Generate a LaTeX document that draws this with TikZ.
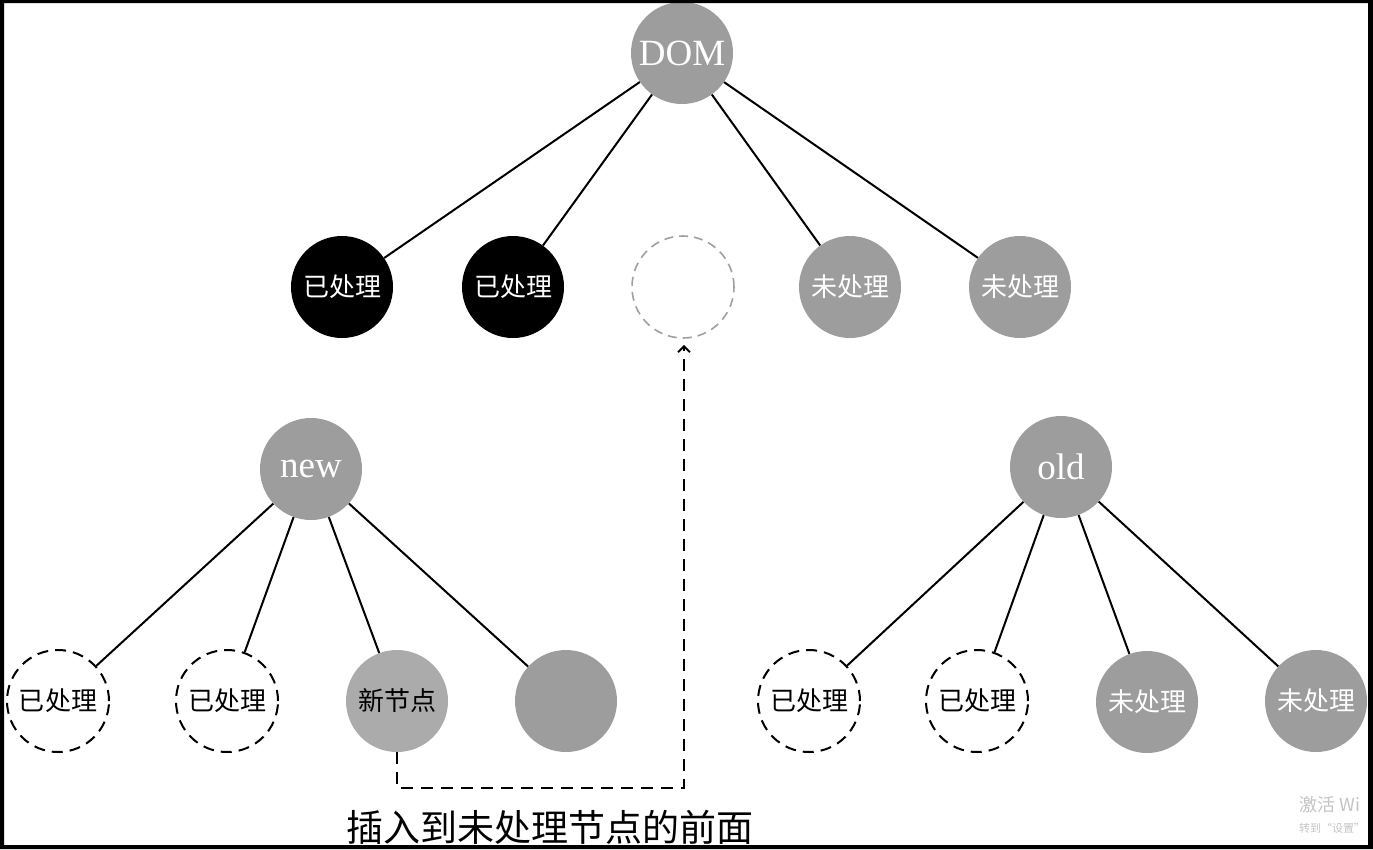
\documentclass[tikz,border=0pt]{standalone}
\usepackage{fontspec}
\setmainfont{Liberation Serif}
\newfontfamily\cjk{Noto Sans CJK SC}
\usetikzlibrary{arrows.meta}
\definecolor{nodegray}{HTML}{9D9D9D}
\definecolor{newgray}{HTML}{ABABAB}
\definecolor{ghost}{HTML}{A0A0A0}
\definecolor{wm}{HTML}{C4C4C4}
\begin{document}
\begin{tikzpicture}[x=1pt,y=-1pt,
 ball/.style={circle, minimum size=102pt, inner sep=0pt, font=\cjk\fontsize{26}{26}\selectfont},
 done/.style={ball, fill=black, text=white},
 todo/.style={ball, fill=nodegray, text=white},
 root/.style={ball, fill=nodegray, text=white, font=\fontsize{37}{37}\selectfont},
 seen/.style={ball, draw=black, line width=2pt, dash pattern=on 11pt off 7pt},
 hole/.style={ball, draw=ghost, line width=1.6pt, dash pattern=on 9pt off 6pt},
 fresh/.style={ball, fill=newgray, text=black},
 edge/.style={line width=2pt},
 jump/.style={line width=2pt, dash pattern=on 12pt off 8pt, -{Straight Barb[length=6pt,width=12pt,line width=2pt]}, shorten >=6pt}
]
\useasboundingbox (0,0) rectangle (1373,849);
\fill[white] (0,0) rectangle (1373,849);
% top tree
\node[root] (dom) at (682,53) {DOM};
\node[done] (a1) at (342,287) {已处理};
\node[done] (a2) at (513,287) {已处理};
\node[hole] (gap) at (683,287) {};
\node[todo] (a4) at (850,287) {未处理};
\node[todo] (a5) at (1020,287) {未处理};
\foreach \c in {a1,a2,a4,a5} \draw[edge] (dom) -- (\c);
% new tree
\node[root] (new) at (311,469) {new};
\node[seen] (n1) at (58,701) {已处理};
\node[seen] (n2) at (227,701) {已处理};
\node[fresh] (nn) at (397,701) {新节点};
\node[todo] (n4) at (566,701) {};
\foreach \c in {n1,n2,nn,n4} \draw[edge] (new) -- (\c);
% old tree
\node[root] (old) at (1061,467) {old};
\node[seen] (o1) at (809,701) {已处理};
\node[seen] (o2) at (977,701) {已处理};
\node[todo] (o3) at (1147,702) {未处理};
\node[todo] (o4) at (1316,701) {未处理};
\foreach \c in {o1,o2,o3,o4} \draw[edge] (old) -- (\c);
% insertion arrow
\coordinate (bend) at (684,788);
\draw[jump] (nn.south) |- (bend) -- (bend |- gap.south);
\node[font=\cjk\fontsize{37}{37}\selectfont, inner sep=0pt] (cap) at (550,827) {插入到未处理节点的前面};
% watermark
\node[anchor=base west, text=wm, font=\cjk\fontsize{18}{18}\selectfont, inner sep=0pt] (wm1) at (1299,811) {激活 Wi};
\node[anchor=base west, text=wm, font=\cjk\fontsize{11}{11}\selectfont, inner sep=0pt] (wm2) at (1299,832) {转到“设置”};
% frame
\fill[black, even odd rule] (0,0) rectangle (1373,849) (4,3) rectangle (1368,845);
\end{tikzpicture}
\end{document}
